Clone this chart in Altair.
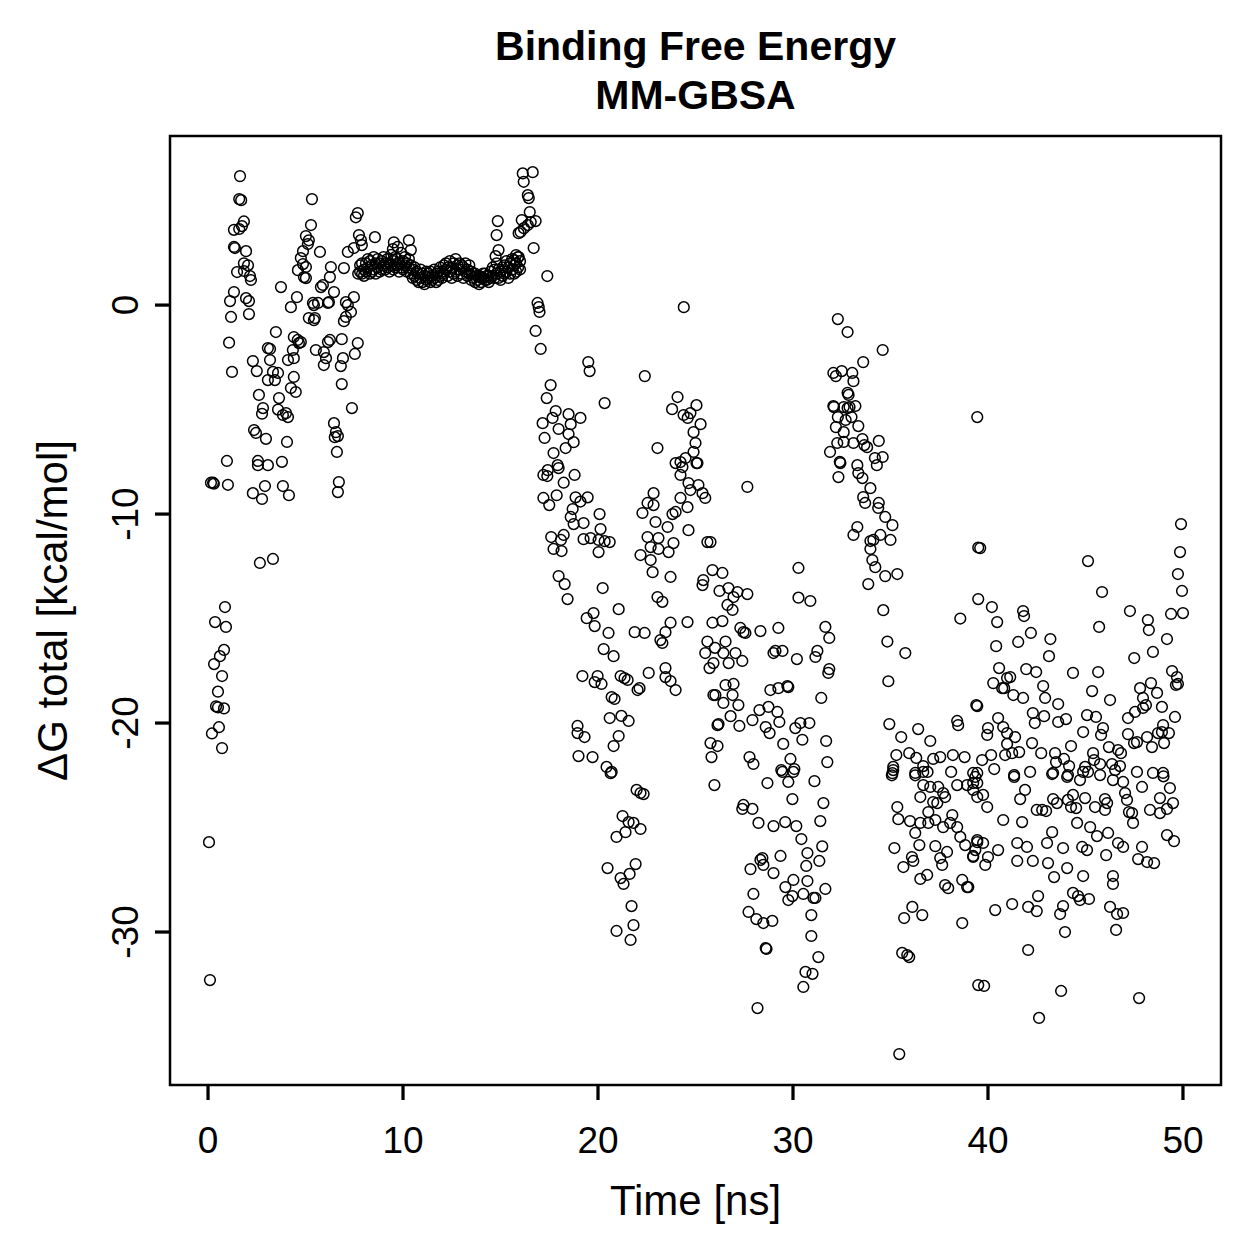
import altair as alt
import pandas as pd

# Binding free energy (MM-GBSA) per frame: (time in ns, dG total in kcal/mol)

early_frames = [
    (0.05, -25.7), (0.1, -32.3), (0.15, -8.5), (0.26, -8.5), (0.3, -8.55), (0.2, -20.5),
    (0.36, -15.17), (0.31, -17.18), (0.61, -16.8), (0.82, -16.5), (0.72, -17.75), (0.51, -18.5),
    (0.41, -19.2), (0.51, -19.25), (0.82, -19.3), (0.56, -20.2), (0.72, -21.2), (0.87, -14.45),
    (0.92, -15.4), (0.97, -7.46), (1.02, -8.6), (1.08, -1.8), (1.23, -3.2), (1.18, -0.57),
    (1.13, 0.19), (1.33, 0.62), (1.64, 6.17), (1.6, 5.07), (1.7, 5.02), (1.84, 4.0),
    (1.33, 3.6), (1.6, 3.64), (1.74, 3.78), (1.33, 2.78), (1.38, 2.73), (1.95, 2.58),
    (1.84, 2.0), (2.05, 1.9), (1.84, 1.63), (1.49, 1.58), (2.15, 1.39), (2.2, 1.2),
    (1.95, 0.33), (2.1, 0.19), (2.1, -0.43), (2.3, -2.68), (2.5, -3.16), (3.48, -1.29),
    (3.07, -2.06), (3.18, -2.1), (3.18, -2.63), (3.07, -3.59), (3.33, -3.2), (3.59, -3.25),
    (3.43, -3.59), (2.61, -4.3), (3.64, -4.45), (2.82, -4.93), (2.77, -5.2), (3.59, -5.0),
    (4.0, -5.17), (4.1, -5.36), (3.84, -5.26), (2.36, -5.98), (2.46, -6.12), (2.97, -6.4),
    (4.05, -6.55), (2.56, -7.46), (2.56, -7.66), (3.07, -7.66), (3.79, -7.5), (4.1, -2.63),
    (4.4, -2.54), (4.6, -1.67), (4.76, -1.77), (4.66, -1.82), (4.35, -2.15), (4.25, -3.97),
    (4.5, -4.16), (4.4, -3.44), (3.74, 0.86), (4.25, -0.1), (4.56, 0.38), (5.33, 5.07),
    (5.28, 3.83), (5.02, 3.3), (5.17, 3.1), (5.12, 2.92), (4.87, 2.58), (4.76, 2.25),
    (4.87, 1.96), (4.61, 1.67), (5.02, 1.82), (4.92, 1.34), (5.02, 1.29), (5.74, 2.54),
    (6.3, 1.82), (6.25, 1.34), (6.97, 1.77), (5.79, 0.86), (5.89, 0.96), (6.46, 0.62),
    (5.38, 0.1), (5.64, 0.1), (5.43, 0.0), (6.15, 0.1), (6.2, 0.14), (5.17, -0.62),
    (5.48, -0.62), (5.43, -0.72), (7.07, 0.14), (7.17, 0.0), (7.48, 0.38), (7.33, -0.33),
    (7.07, -0.57), (6.97, -0.77), (5.53, -2.15), (5.94, -2.25), (6.05, -2.54), (5.94, -2.87),
    (6.15, -1.77), (6.25, -1.67), (6.86, -1.63), (6.92, -2.54), (6.81, -2.92), (7.68, -1.82),
    (7.53, -2.34), (6.86, -3.78), (7.38, -4.93), (6.46, -5.65), (6.56, -6.08), (6.66, -6.27),
    (6.5, -6.32), (6.61, -7.03), (7.68, 4.4), (7.58, 4.2), (7.74, 3.35), (7.84, 3.11),
    (7.89, 2.87), (7.17, 2.54), (7.48, 2.73), (8.56, 3.25), (9.53, 3.0), (10.3, 3.1),
    (9.73, 2.78), (9.48, 2.68), (10.4, 2.63), (2.3, -9.0), (2.77, -9.28), (2.92, -8.66),
    (3.84, -8.66), (4.15, -9.1), (6.71, -8.47), (6.66, -8.95), (2.66, -12.34), (3.33, -12.15),
    (4.4, -1.53),
]

plateau_frames = [
    (7.7, 1.5), (7.8, 1.6), (7.8, 1.9), (7.9, 1.5), (7.9, 2.0), (8.0, 1.7), (8.0, 1.4),
    (8.1, 2.0), (8.1, 1.6), (8.2, 1.8), (8.2, 2.2), (8.3, 1.5), (8.3, 2.1), (8.4, 1.9),
    (8.4, 1.6), (8.5, 2.3), (8.5, 1.7), (8.6, 2.0), (8.6, 1.5), (8.7, 1.8), (8.7, 2.2),
    (8.8, 1.6), (8.8, 2.0), (8.9, 2.1), (8.9, 1.7), (9.0, 1.9), (9.0, 2.3), (9.1, 1.7),
    (9.1, 2.0), (9.2, 2.2), (9.2, 1.8), (9.3, 2.0), (9.3, 1.6), (9.4, 2.4), (9.4, 1.9),
    (9.5, 2.1), (9.5, 1.7), (9.6, 1.8), (9.6, 2.3), (9.7, 2.2), (9.7, 1.9), (9.8, 2.0),
    (9.8, 1.6), (9.9, 2.5), (9.9, 1.8), (10.0, 2.1), (10.0, 1.7), (10.1, 1.9), (10.1, 2.3),
    (10.2, 1.6), (10.2, 2.0), (10.3, 1.8), (10.3, 2.2), (10.4, 1.5), (10.4, 1.9), (10.5, 1.7),
    (10.5, 1.3), (10.6, 1.4), (10.6, 1.8), (10.7, 1.2), (10.7, 1.6), (10.8, 1.5), (10.8, 1.1),
    (10.9, 1.3), (10.9, 1.7), (11.0, 1.1), (11.0, 1.5), (11.1, 1.4), (11.1, 1.0), (11.2, 1.6),
    (11.2, 1.2), (11.3, 1.3), (11.3, 1.5), (11.4, 1.1), (11.4, 1.6), (11.5, 1.4), (11.5, 1.2),
    (11.6, 1.7), (11.6, 1.3), (11.7, 1.5), (11.7, 1.1), (11.8, 1.2), (11.8, 1.6), (11.9, 1.4),
    (11.9, 1.8), (12.0, 1.6), (12.0, 1.3), (12.1, 1.9), (12.1, 1.5), (12.2, 1.7), (12.2, 2.0),
    (12.3, 1.4), (12.3, 1.8), (12.4, 2.1), (12.4, 1.6), (12.5, 1.8), (12.5, 1.3), (12.6, 2.0),
    (12.6, 1.5), (12.7, 1.6), (12.7, 2.2), (12.8, 1.9), (12.8, 1.4), (12.9, 1.7), (12.9, 2.0),
    (13.0, 1.5), (13.0, 1.9), (13.1, 1.8), (13.1, 1.3), (13.2, 1.6), (13.2, 2.0), (13.3, 1.4),
    (13.3, 1.7), (13.4, 1.9), (13.4, 1.5), (13.5, 1.6), (13.5, 1.2), (13.6, 1.3), (13.6, 1.5),
    (13.7, 1.5), (13.7, 1.1), (13.8, 1.2), (13.8, 1.4), (13.9, 1.4), (13.9, 1.0), (14.0, 1.1),
    (14.0, 1.3), (14.1, 1.3), (14.1, 1.5), (14.2, 1.5), (14.2, 1.2), (14.3, 1.2), (14.3, 1.4),
    (14.4, 1.4), (14.4, 1.1), (14.5, 1.6), (14.5, 1.3), (14.6, 1.4), (14.6, 1.8), (14.7, 1.7),
    (14.7, 1.3), (14.8, 1.5), (14.8, 2.0), (14.9, 1.3), (14.9, 1.7), (15.0, 1.6), (15.0, 1.2),
    (15.1, 1.4), (15.1, 1.8), (15.2, 1.9), (15.2, 1.5), (15.3, 1.6), (15.3, 2.1), (15.4, 1.3),
    (15.4, 1.8), (15.5, 2.0), (15.5, 1.5), (15.6, 1.7), (15.6, 2.2), (15.7, 1.5), (15.7, 1.9),
    (15.8, 2.0), (15.8, 1.6), (15.9, 1.8), (15.9, 2.3), (16.0, 2.1), (16.0, 1.7),
    (14.86, 4.02), (14.8, 3.35), (14.9, 2.63), (14.75, 2.34), (15.8, 2.39), (15.7, 2.15),
    (15.93, 2.3),
]

transition_frames = [
    (16.14, 6.3), (16.65, 6.36), (16.19, 5.9), (16.4, 5.26), (16.45, 5.12), (16.5, 4.45),
    (16.09, 4.07), (16.55, 3.97), (16.8, 4.02), (16.4, 3.83), (16.2, 3.68), (16.03, 3.5),
    (15.93, 3.44), (16.7, 2.73), (17.4, 1.39), (16.9, 0.1), (16.96, -0.1), (17.0, -0.33),
    (16.8, -1.24), (17.06, -2.1), (24.4, -0.1), (19.5, -2.73), (19.57, -3.16), (22.4, -3.4),
    (17.57, -3.83), (17.37, -4.45), (20.34, -4.69), (17.83, -5.07), (17.67, -5.4), (17.16, -5.65),
    (18.49, -5.22), (19.1, -5.4), (18.6, -5.7), (17.98, -5.93), (18.49, -6.17), (18.75, -6.56),
    (17.26, -6.36), (18.34, -6.84), (17.72, -7.08), (17.93, -7.66), (17.42, -7.9), (23.05, -6.84),
    (24.08, -4.4), (23.8, -4.98), (24.39, -5.26), (24.6, -5.4), (24.74, -5.17), (25.05, -4.79),
    (25.26, -5.7), (24.9, -6.08), (25.0, -6.6), (24.9, -7.03), (25.05, -7.56), (24.23, -7.51),
    (23.98, -7.56), (24.49, -7.32),
    (17.2, -8.13), (17.4, -8.18), (17.98, -7.8), (18.24, -8.5), (18.8, -8.13), (17.88, -9.1),
    (17.2, -9.23), (17.5, -9.57), (18.85, -9.2), (19.47, -9.2), (19.1, -9.4), (18.7, -9.76),
    (18.6, -10.14), (18.75, -10.48), (19.26, -10.43), (20.08, -10.0), (20.13, -10.72), (17.6, -11.1),
    (18.24, -11.0), (18.1, -11.24), (17.72, -11.67), (18.13, -11.77), (19.26, -11.2), (19.62, -11.15),
    (20.03, -11.24), (20.34, -11.3), (20.6, -11.34), (20.03, -11.82), (17.98, -12.97), (18.29, -13.35),
    (18.44, -14.07), (20.24, -13.54), (19.77, -14.74), (19.42, -14.98), (19.83, -15.36), (20.54, -15.69),
    (21.06, -14.55), (20.29, -16.46), (20.8, -16.8), (21.88, -15.65), (22.39, -15.69), (19.2, -17.75),
    (19.98, -17.75), (19.83, -18.04), (20.18, -18.13), (21.16, -17.75), (21.36, -17.85), (21.52, -17.94),
    (22.03, -18.42), (22.13, -18.33), (22.6, -17.6), (20.7, -18.76), (20.85, -18.85), (20.6, -19.76),
    (21.2, -19.66), (21.57, -19.9), (18.95, -20.14), (18.95, -20.48), (19.31, -20.67), (21.06, -20.62),
    (20.8, -21.1), (19.0, -21.58), (19.72, -21.63), (20.44, -22.1), (20.7, -22.34),
    (22.85, -9.0), (22.54, -9.47), (22.85, -9.57), (22.28, -9.95), (22.95, -10.38), (23.57, -10.62),
    (24.23, -9.23), (24.59, -9.67), (23.98, -9.9), (23.82, -10.0), (24.64, -10.77), (25.61, -11.34),
    (22.54, -11.1), (23.1, -11.15), (23.87, -11.39), (22.7, -11.58), (23.1, -11.67), (23.62, -11.82),
    (22.18, -11.96), (22.7, -12.2), (22.8, -12.78), (23.72, -13.01), (24.33, -7.75), (25.1, -7.56),
    (24.23, -8.13), (24.64, -8.52), (25.15, -8.61), (24.74, -8.85), (25.36, -9.0), (25.5, -9.23),
    (23.05, -13.97), (23.3, -14.2), (23.2, -16.03), (23.3, -16.17), (23.46, -15.65), (23.72, -15.2),
    (24.59, -15.17), (23.46, -17.37), (23.46, -17.8), (23.72, -17.99), (23.98, -18.42), (25.87, -15.2),
    (25.61, -16.1), (25.5, -16.65), (25.72, -17.37), (25.92, -18.66), (26.13, -20.1), (25.77, -20.96),
    (25.82, -21.63), (25.87, -12.68), (25.4, -13.16), (25.36, -13.4), (25.77, -11.34),
    (20.65, -22.4), (21.98, -23.2), (22.18, -23.35), (22.34, -23.4), (25.97, -22.97), (21.26, -24.45),
    (21.57, -24.74), (21.82, -24.78), (22.18, -25.07), (21.41, -25.22), (20.95, -25.45), (20.49, -26.94),
    (21.93, -26.75), (21.62, -27.22), (21.16, -27.42), (21.31, -27.7), (21.72, -28.76), (20.95, -29.95),
    (21.82, -29.67), (21.67, -30.38),
]

middle_frames = [
    (27.66, -8.7), (32.3, -0.67), (32.8, -1.29), (34.6, -2.15), (33.6, -2.73), (32.07, -3.25),
    (32.2, -3.4), (32.5, -3.16), (33.04, -3.25), (33.1, -3.64), (32.8, -4.2), (32.85, -4.3),
    (32.07, -4.83), (32.1, -4.88), (32.6, -4.88), (32.8, -4.93), (33.2, -4.83), (32.9, -4.88),
    (32.3, -5.36), (32.7, -5.5), (33.0, -5.36), (32.2, -5.84), (32.6, -6.08), (33.35, -5.79),
    (32.27, -6.6), (32.6, -6.55), (33.1, -6.6), (33.56, -6.41), (33.8, -6.8), (33.66, -6.7),
    (34.4, -6.5), (31.9, -7.03), (32.4, -7.5), (33.3, -7.66), (34.2, -7.32), (34.6, -7.27),
    (34.3, -7.66), (39.45, -5.36),
    (32.43, -7.56), (33.35, -8.04), (32.33, -8.23), (33.56, -8.28), (33.97, -8.76), (33.6, -9.19),
    (33.7, -9.47), (34.4, -9.47), (34.37, -9.71), (34.73, -10.14), (35.1, -10.53), (33.3, -10.62),
    (33.1, -11.0), (33.97, -11.29), (34.12, -11.24), (34.48, -11.0), (35.0, -11.24), (33.97, -11.67),
    (34.07, -12.2), (34.22, -12.54), (34.73, -12.97), (35.35, -12.87), (33.86, -13.35), (34.63, -14.6),
    (34.84, -16.1), (35.76, -16.65), (34.89, -18.0), (38.58, -15.0), (39.5, -11.6), (39.5, -14.07),
    (30.28, -12.58), (30.28, -14.0), (30.89, -14.16),
    (26.38, -12.82), (26.23, -13.68), (26.69, -13.54), (27.15, -13.73), (27.66, -13.83), (26.64, -14.35),
    (26.95, -13.97), (26.9, -14.59), (26.38, -15.12), (27.3, -15.45), (27.46, -15.65), (27.56, -15.69),
    (28.33, -15.6), (29.25, -15.45), (26.0, -16.4), (26.54, -16.1), (26.43, -16.65), (27.05, -16.65),
    (27.4, -17.03), (26.7, -17.13), (25.92, -17.13), (29.1, -16.55), (29.46, -16.55), (29.0, -16.65),
    (30.2, -16.94), (31.66, -15.4), (31.86, -15.93), (31.25, -16.55), (31.15, -16.84), (31.86, -17.42),
    (31.81, -17.6), (26.54, -18.18), (26.95, -18.13), (26.02, -18.66), (26.43, -19.04), (26.9, -18.66),
    (27.2, -19.14), (28.84, -18.42), (29.25, -18.33), (29.71, -18.23), (29.76, -18.28), (31.45, -18.8),
    (26.8, -19.67), (26.18, -20.05), (27.25, -20.14), (27.92, -19.86), (28.28, -19.38), (28.74, -19.23),
    (29.2, -19.47), (29.3, -19.95), (28.6, -20.19), (28.8, -20.48), (30.12, -20.24), (30.38, -20.0),
    (30.84, -20.0), (30.48, -20.8), (29.5, -21.0), (31.7, -20.86), (26.13, -21.1), (27.77, -21.63),
    (27.97, -21.96), (29.4, -22.25), (29.87, -21.72), (30.07, -22.2), (31.76, -21.87),
    (34.94, -20.05), (35.55, -20.67), (36.42, -20.29), (37.04, -20.86), (35.3, -21.53), (35.96, -21.44),
    (36.32, -21.67), (35.14, -22.1), (35.1, -22.4), (36.27, -22.39), (36.68, -22.06), (37.19, -21.72),
    (37.55, -21.63), (36.9, -22.34), (38.2, -21.53), (38.8, -21.63), (38.11, -22.34), (39.4, -19.14),
    (38.42, -19.9), (38.47, -20.1), (39.24, -22.39),
    (28.69, -22.87), (29.76, -22.82), (31.1, -22.78), (29.46, -22.34), (30.02, -22.34), (29.97, -23.64),
    (31.56, -23.83), (31.4, -24.69), (27.46, -23.92), (27.4, -24.11), (27.92, -24.11), (28.23, -24.78),
    (29.0, -24.93), (29.6, -24.74), (30.17, -24.93), (30.43, -25.55), (31.5, -25.9), (29.36, -26.36),
    (28.43, -26.46), (28.33, -26.55), (27.82, -26.99), (29.0, -27.18), (28.48, -26.79), (30.74, -26.22),
    (31.35, -26.6), (30.68, -26.84), (30.02, -27.51), (30.74, -27.56), (29.61, -27.85), (29.76, -28.47),
    (29.97, -28.28), (30.53, -28.18), (31.15, -28.37), (31.66, -27.94), (31.05, -28.37), (27.97, -28.18),
    (27.72, -29.04), (28.12, -29.38), (28.48, -29.57), (28.94, -29.47), (30.94, -29.19), (30.94, -30.19),
    (31.3, -31.2), (30.64, -31.91), (31.0, -32.0), (30.53, -32.63), (28.6, -30.77), (28.64, -30.81),
    (28.18, -33.64),
    (35.07, -22.5), (35.14, -22.25), (36.27, -22.5), (36.68, -22.34), (36.53, -23.54), (35.35, -24.02),
    (35.4, -24.6), (36.0, -24.69), (36.68, -22.97), (37.04, -23.06), (37.45, -23.06), (37.7, -23.35),
    (37.8, -23.54), (38.42, -22.97), (38.93, -22.97), (39.24, -22.87), (39.45, -23.54), (36.94, -24.26),
    (37.19, -23.78), (37.4, -23.83), (38.17, -24.4), (38.42, -24.98), (38.58, -25.45), (38.83, -25.84),
    (39.24, -26.36), (39.45, -25.6), (36.53, -24.78), (36.94, -24.78), (37.3, -24.64), (37.7, -24.98),
    (38.06, -24.78), (36.27, -25.26), (36.48, -25.84), (35.2, -25.98), (35.66, -26.89), (36.1, -26.41),
    (36.17, -26.6), (37.3, -25.89), (37.55, -26.46), (37.65, -26.79), (37.9, -26.17), (36.53, -27.46),
    (36.88, -27.27), (37.8, -27.75), (37.96, -27.9), (38.68, -27.51), (38.93, -27.85), (38.99, -27.85),
    (35.7, -29.33), (36.12, -28.8), (36.63, -29.19), (38.68, -29.57), (35.6, -31.0), (35.86, -31.1),
    (35.96, -31.2), (35.45, -35.84), (39.5, -32.54),
]

late_frames = [
    (49.9, -10.48), (49.85, -11.82), (49.74, -12.87), (49.95, -13.68), (50.0, -14.74), (49.39, -14.78),
    (45.13, -12.25), (45.85, -13.73), (45.7, -15.4), (39.6, -11.63), (40.2, -14.45),
    (40.47, -15.17), (40.42, -16.32), (41.8, -14.64), (41.85, -14.88), (42.2, -15.69), (41.55, -16.12),
    (43.2, -15.98), (43.13, -16.8), (47.28, -14.64), (48.2, -15.07), (48.25, -15.55), (49.18, -15.98),
    (48.46, -16.6), (47.5, -16.89), (49.44, -17.51), (49.69, -17.8), (49.64, -18.18), (49.74, -18.13),
    (40.57, -17.37), (40.98, -17.85), (41.14, -17.8), (40.27, -18.09), (40.73, -18.33), (40.83, -18.33),
    (41.3, -18.66), (41.8, -18.8), (41.96, -17.42), (42.47, -17.56), (42.83, -18.23), (42.93, -18.8),
    (43.6, -19.09), (44.36, -17.6), (45.65, -17.56), (45.34, -18.47), (46.26, -18.9), (47.8, -18.33),
    (48.36, -18.09), (48.67, -18.56), (47.95, -18.8), (48.1, -19.14), (47.95, -19.28), (48.92, -19.23),
    (47.54, -19.47), (47.18, -19.76), (39.45, -19.19),
    (40.52, -19.76), (40.0, -20.24), (39.96, -20.57), (40.78, -20.19), (40.98, -20.48), (41.39, -20.67),
    (40.98, -21.0), (40.88, -21.53), (40.16, -21.53), (39.7, -21.77), (41.24, -21.44), (41.6, -21.39),
    (42.3, -19.52), (42.4, -20.0), (42.88, -19.67), (43.6, -19.95), (44.0, -19.81), (42.26, -20.96),
    (42.73, -21.44), (44.26, -21.1), (44.88, -20.43), (45.08, -19.62), (45.54, -19.71), (45.9, -20.24),
    (45.8, -20.57), (46.2, -21.15), (46.67, -21.29), (46.82, -21.44), (45.39, -21.44), (45.44, -21.77),
    (43.44, -21.44), (43.49, -21.87), (43.9, -21.72), (44.16, -22.06), (44.98, -22.1), (45.75, -21.96),
    (46.36, -21.96), (46.77, -22.06), (47.18, -20.53), (47.49, -20.96), (47.64, -20.91), (48.16, -20.67),
    (48.41, -21.15), (48.72, -20.48), (48.92, -20.43), (49.03, -20.96), (49.28, -20.48), (49.59, -19.71),
    (48.98, -20.1), (39.45, -22.39), (40.32, -22.2), (41.34, -22.49), (42.16, -22.34), (43.34, -22.39),
    (44.1, -22.49), (44.88, -22.34), (47.64, -22.34), (48.46, -22.39), (48.98, -22.39),
    (39.35, -22.58), (39.45, -22.87), (39.24, -23.2), (39.75, -23.44), (39.96, -24.02), (41.34, -22.58),
    (41.65, -23.64), (41.9, -23.2), (40.78, -24.64), (41.75, -24.74), (42.5, -24.16), (42.78, -24.16),
    (42.98, -24.21), (43.34, -23.64), (43.54, -23.83), (44.1, -23.68), (44.36, -23.44), (44.26, -24.02),
    (44.52, -24.07), (44.98, -23.59), (45.49, -24.02), (46.0, -23.64), (46.11, -23.83), (46.0, -24.16),
    (43.29, -25.22), (44.57, -24.78), (45.24, -24.98), (45.59, -25.41), (46.16, -25.26), (46.41, -22.73),
    (46.93, -22.82), (47.03, -23.35), (47.13, -23.68), (47.23, -24.26), (47.39, -24.31), (47.44, -24.78),
    (47.9, -23.06), (48.31, -24.16), (48.82, -23.59), (49.33, -23.11), (49.49, -23.83), (49.18, -24.11),
    (48.82, -24.31), (43.29, -22.44), (44.06, -22.58), (44.72, -22.73), (45.13, -22.34), (45.75, -22.49),
    (46.52, -22.25), (49.0, -22.55),
    (39.45, -25.7), (39.75, -25.74), (40.52, -26.08), (39.35, -26.08), (39.24, -26.41), (40.0, -26.41),
    (39.86, -26.79), (41.5, -25.74), (42.0, -25.93), (41.5, -26.6), (42.3, -26.6), (43.03, -25.74),
    (43.08, -26.7), (43.85, -25.98), (43.39, -27.37), (44.06, -26.94), (44.83, -25.93), (45.08, -26.08),
    (44.88, -27.32), (46.06, -26.32), (46.67, -25.74), (46.93, -25.93), (47.9, -25.93), (47.7, -26.51),
    (48.16, -26.65), (48.52, -26.7), (49.18, -25.36), (49.54, -25.65), (46.41, -27.32), (46.41, -27.7),
    (44.36, -28.13), (44.62, -28.28), (44.72, -28.47), (45.18, -28.42), (42.57, -28.28), (42.06, -28.8),
    (42.5, -29.0), (43.7, -29.14), (43.85, -28.76), (41.24, -28.66), (40.37, -28.95), (46.26, -28.8),
    (46.62, -29.14), (46.93, -29.09), (43.95, -30.0), (46.57, -29.9), (42.06, -30.86), (39.8, -32.58),
    (43.75, -32.82), (47.75, -33.16), (42.62, -34.11),
]

# Axis ticks and titles
time_ticks = [0, 10, 20, 30, 40, 50]
dg_ticks = [-30, -20, -10, 0]
x_title = "Time [ns]"
y_title = "ΔG total [kcal/mol]"
chart_title = ["Binding Free Energy", "MM-GBSA"]

frames = early_frames + plateau_frames + transition_frames + middle_frames + late_frames
data = pd.DataFrame(frames, columns=["time_ns", "dg_total"])
xtick_df = pd.DataFrame({"time_ns": time_ticks})
ytick_df = pd.DataFrame({"dg_total": dg_ticks})
xlabel_df = pd.DataFrame({"time_ns": time_ticks, "label": [str(v) for v in time_ticks]})
ylabel_df = pd.DataFrame({"dg_total": dg_ticks, "label": [str(v) for v in dg_ticks]})

FONT = "Liberation Sans"
PLOT_W, PLOT_H = 1051, 949
TICK_LEN = 15
LABEL_SIZE = 37
TITLE_SIZE = 42

x_scale = alt.Scale(domain=[-1.95, 51.95], nice=False, zero=False)
y_scale = alt.Scale(domain=[-37.32, 8.09], nice=False, zero=False)

points = (
    alt.Chart(data)
    .mark_point(shape="circle", filled=False, color="black", size=115, strokeWidth=1.5, opacity=1)
    .encode(
        x=alt.X("time_ns:Q", scale=x_scale, axis=None),
        y=alt.Y("dg_total:Q", scale=y_scale, axis=None),
    )
)

x_tick_labels = (
    alt.Chart(xlabel_df)
    .mark_text(font=FONT, fontSize=LABEL_SIZE, color="black", align="center", baseline="alphabetic")
    .encode(
        x=alt.X("time_ns:Q", scale=x_scale, axis=None),
        y=alt.value(PLOT_H + 68),
        text="label:N",
    )
)

y_tick_labels = (
    alt.Chart(ylabel_df)
    .mark_text(font=FONT, fontSize=LABEL_SIZE, color="black", align="center",
               baseline="alphabetic", angle=270)
    .encode(
        y=alt.Y("dg_total:Q", scale=y_scale, axis=None),
        x=alt.value(-32),
        text="label:N",
    )
)

x_title_mark = (
    alt.Chart(pd.DataFrame({"label": [x_title]}))
    .mark_text(font=FONT, fontSize=TITLE_SIZE, color="black", align="center", baseline="alphabetic")
    .encode(x=alt.value(PLOT_W / 2), y=alt.value(PLOT_H + 130), text="label:N")
)

y_title_mark = (
    alt.Chart(pd.DataFrame({"label": [y_title]}))
    .mark_text(font=FONT, fontSize=TITLE_SIZE, color="black", align="center",
               baseline="alphabetic", angle=270)
    .encode(x=alt.value(-103), y=alt.value(PLOT_H / 2), text="label:N")
)

# Outward tick marks below the bottom edge and left of the left edge
x_tick_marks = (
    alt.Chart(xtick_df)
    .mark_rule(color="black", strokeWidth=3, opacity=1)
    .encode(
        x=alt.X("time_ns:Q", scale=x_scale, axis=None),
        y=alt.value(PLOT_H),
        y2=alt.value(PLOT_H + TICK_LEN),
    )
)

y_tick_marks = (
    alt.Chart(ytick_df)
    .mark_rule(color="black", strokeWidth=3, opacity=1)
    .encode(
        y=alt.Y("dg_total:Q", scale=y_scale, axis=None),
        x=alt.value(0),
        x2=alt.value(-TICK_LEN),
    )
)

x_tick_bars = (
    alt.Chart(xtick_df)
    .mark_tick(color="black", thickness=2.5, size=TICK_LEN, opacity=1)
    .encode(
        x=alt.X("time_ns:Q", scale=x_scale, axis=None),
        y=alt.value(PLOT_H + TICK_LEN / 2),
    )
)

y_tick_bars = (
    alt.Chart(ytick_df)
    .mark_tick(color="black", thickness=2.5, size=TICK_LEN, opacity=1)
    .encode(
        y=alt.Y("dg_total:Q", scale=y_scale, axis=None),
        x=alt.value(-TICK_LEN / 2),
    )
)

chart = (
    alt.layer(points, x_tick_labels, y_tick_labels, x_title_mark, y_title_mark,
              x_tick_marks, y_tick_marks, x_tick_bars, y_tick_bars)
    .properties(
        width=PLOT_W,
        height=PLOT_H,
        title=alt.TitleParams(
            text=chart_title,
            font=FONT,
            fontSize=41,
            fontWeight="bold",
            color="black",
            anchor="middle",
            lineHeight=49,
            offset=18,
        ),
        autosize=alt.AutoSizeParams(type="none"),
        padding={"left": 170, "top": 136, "right": 38, "bottom": 174},
    )
    .configure(background="white")
    .configure_view(stroke="black", strokeWidth=2.5)
)

chart.save("out.html", embed_options={"renderer": "svg", "actions": False})
